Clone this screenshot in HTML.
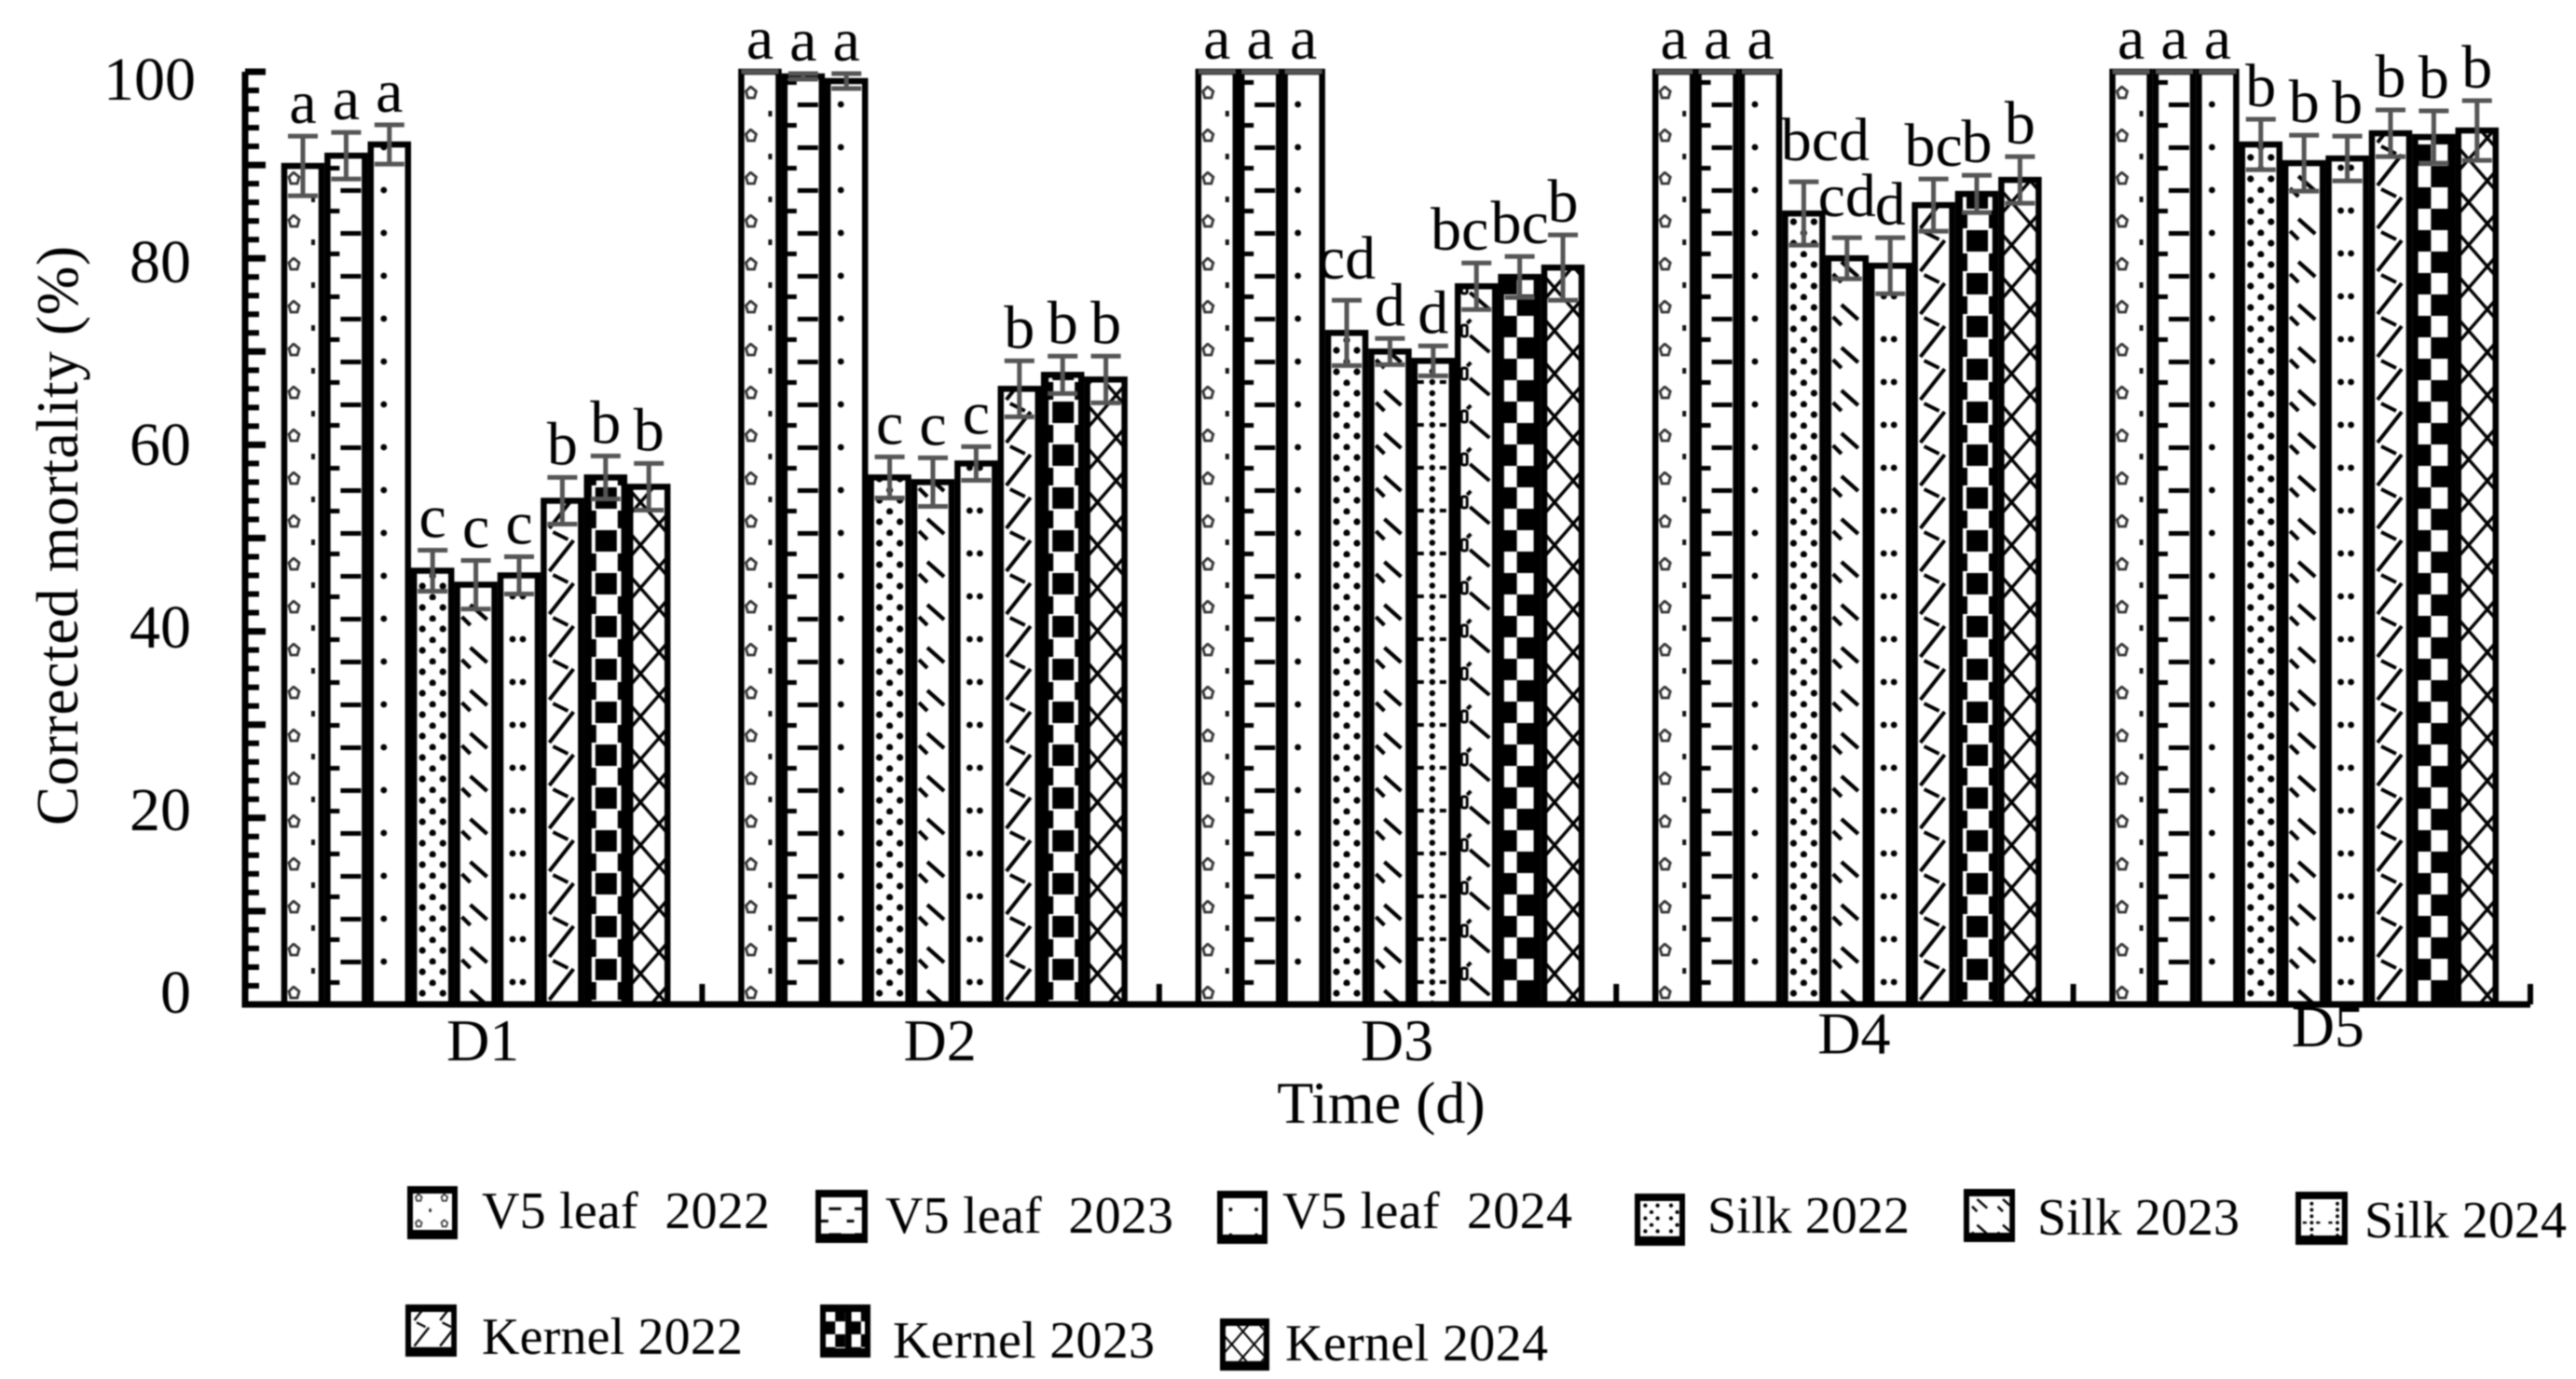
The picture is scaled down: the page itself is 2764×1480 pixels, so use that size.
<!DOCTYPE html>
<html lang="en">
<head>
<meta charset="utf-8">
<title>Corrected mortality</title>
<style>
html,body{margin:0;padding:0;background:#fff;}
svg{display:block;filter:blur(0.7px);}
text{font-family:"Liberation Serif",serif;fill:#000;white-space:pre;}
</style>
</head>
<body>
<svg id="chart" xmlns="http://www.w3.org/2000/svg" width="2764" height="1480" viewBox="0 0 2764 1480">
<defs>
<pattern id="p0" patternUnits="userSpaceOnUse" width="46" height="46">
  <path d="M10 1l6 5-2 7h-7l-2-7z" fill="none" stroke="#333" stroke-width="2.8"/><rect x="29" y="27" width="4" height="6" fill="#111"/>
</pattern>
<pattern id="p1" patternUnits="userSpaceOnUse" width="46" height="46">
  <rect x="14" y="18" width="22" height="5" fill="#000"/><rect x="0" y="40" width="13" height="5" fill="#000"/>
</pattern>
<pattern id="p2" patternUnits="userSpaceOnUse" width="46" height="46">
  <circle cx="14" cy="20" r="3.4" fill="#000"/>
</pattern>
<pattern id="p3" patternUnits="userSpaceOnUse" width="46" height="23">
  <circle cx="20" cy="20" r="3.6" fill="#000"/><circle cx="9" cy="8" r="3.6" fill="#000"/><circle cx="31" cy="8" r="3.6" fill="#000"/>
</pattern>
<pattern id="p4" patternUnits="userSpaceOnUse" width="46" height="46">
  <path d="M14 5L32 21M5 18L14 27" stroke="#000" stroke-width="4.2" fill="none"/>
</pattern>
<pattern id="p5" patternUnits="userSpaceOnUse" width="46" height="46">
  <circle cx="13" cy="42" r="3.4" fill="#000"/><circle cx="24" cy="42" r="3.4" fill="#000"/>
</pattern>
<pattern id="p5b" patternUnits="userSpaceOnUse" width="46" height="46">
  <circle cx="19" cy="8" r="3.2" fill="#000"/><circle cx="19" cy="19" r="3.2" fill="#000"/><circle cx="19" cy="30.5" r="3.2" fill="#000"/><circle cx="19" cy="42" r="3.2" fill="#000"/><rect x="3" y="40" width="7" height="4" fill="#000"/><rect x="27" y="40" width="7" height="4" fill="#000"/>
</pattern>
<pattern id="p6" patternUnits="userSpaceOnUse" width="46" height="46">
  <path d="M6 15L32 -18M6 61L32 28M10 19L26 27" stroke="#000" stroke-width="4" fill="none"/>
</pattern>
<pattern id="p6b" patternUnits="userSpaceOnUse" width="46" height="46">
  <rect x="4" y="27" width="6" height="12" rx="2" fill="none" stroke="#000" stroke-width="3"/><path d="M13 38L34 56M13 -8L34 10M10 25L14 21" stroke="#000" stroke-width="4" fill="none"/>
</pattern>
<pattern id="p7" patternUnits="userSpaceOnUse" width="46" height="46">
  <rect x="0" y="0" width="10" height="46" fill="#000"/><rect x="33" y="0" width="13" height="46" fill="#000"/><rect x="5" y="15" width="32" height="27" fill="#fff"/><rect x="0" y="15" width="5" height="27" fill="#000"/><rect x="37" y="15" width="9" height="27" fill="#000"/><rect x="9" y="17" width="23" height="23" fill="#000"/>
</pattern>
<pattern id="p7b" patternUnits="userSpaceOnUse" width="46" height="46">
  <rect x="0" y="17" width="17" height="23" fill="#000"/><rect x="17" y="40" width="18" height="6" fill="#000"/><rect x="17" y="0" width="18" height="17" fill="#000"/><rect x="35" y="0" width="11" height="46" fill="#000"/>
</pattern>
<pattern id="p8" patternUnits="userSpaceOnUse" width="40" height="46">
  <path d="M-9 56L11 33L31 10L51 -13M11 -13L31 10L51 33M-9 10L11 33L31 56M31 56L51 33M-9 10L11 -13" stroke="#000" stroke-width="3.4" fill="none"/>
</pattern>
</defs>

<g id="marks"></g>
<g id="axes"></g>
<g id="labels"></g>

<text x="0" y="0" font-size="63" text-anchor="middle" textLength="622" transform="translate(83,575) rotate(-90)">Corrected mortality (%)</text>
<text x="1482" y="1205" font-size="64" text-anchor="middle">Time (d)</text>

<g>
<g>
  <rect x="437" y="1273" width="54" height="57" fill="#000"/><g transform="translate(443,1281) scale(.6)"><rect width="70" height="65" fill="#fff"/><rect width="70" height="65" fill="url(#p0)"/></g>
  <text x="517" y="1318" font-size="56" textLength="309">V5 leaf  2022</text>
</g>
<g>
  <rect x="875" y="1277" width="56" height="57" fill="#000"/><g transform="translate(881,1285) scale(.6)"><rect width="73" height="65" fill="#fff"/><rect width="73" height="65" fill="url(#p1)"/></g>
  <text x="950" y="1323" font-size="56" textLength="309">V5 leaf  2023</text>
</g>
<g>
  <rect x="1306" y="1278" width="54" height="57" fill="#000"/><g transform="translate(1312,1286) scale(.6)"><rect width="70" height="65" fill="#fff"/><rect width="70" height="65" fill="url(#p2)"/></g>
  <text x="1376" y="1318" font-size="56" textLength="311">V5 leaf  2024</text>
</g>
<g>
  <rect x="1754" y="1281" width="54" height="56" fill="#000"/><g transform="translate(1760,1289) scale(.6)"><rect width="70" height="63" fill="#fff"/><rect width="70" height="63" fill="url(#p3)"/></g>
  <text x="1832" y="1323" font-size="56" textLength="217">Silk 2022</text>
</g>
<g>
  <rect x="2107" y="1276" width="55" height="57" fill="#000"/><g transform="translate(2113,1284) scale(.6)"><rect width="72" height="65" fill="#fff"/><rect width="72" height="65" fill="url(#p4)"/></g>
  <text x="2186" y="1325" font-size="56" textLength="217">Silk 2023</text>
</g>
<g>
  <rect x="2463" y="1279" width="56" height="57" fill="#000"/><g transform="translate(2469,1287) scale(.6)"><rect width="73" height="65" fill="#fff"/><rect width="73" height="65" fill="url(#p5b)"/></g>
  <text x="2537" y="1328" font-size="56" textLength="217">Silk 2024</text>
</g>
<g>
  <rect x="435" y="1400" width="55" height="56" fill="#000"/><g transform="translate(441,1408) scale(.6)"><rect width="72" height="63" fill="#fff"/><rect width="72" height="63" fill="url(#p6)"/></g>
  <text x="517" y="1453" font-size="56" textLength="280">Kernel 2022</text>
</g>
<g>
  <rect x="880" y="1400" width="54" height="57" fill="#000"/><g transform="translate(886,1408) scale(.6)"><rect width="70" height="65" fill="#fff"/><rect width="70" height="65" fill="url(#p7b)"/></g>
  <text x="958" y="1457" font-size="56" textLength="281">Kernel 2023</text>
</g>
<g>
  <rect x="1309" y="1415" width="53" height="56" fill="#000"/><g transform="translate(1315,1423) scale(.6)"><rect width="68" height="63" fill="#fff"/><rect width="68" height="63" fill="url(#p8)"/></g>
  <text x="1379" y="1460" font-size="56" textLength="282">Kernel 2024</text>
</g>
</g>
</svg>

<script>
const categories = ['D1', 'D2', 'D3', 'D4', 'D5'];
const seriesNames = ['V5 leaf 2022', 'V5 leaf 2023', 'V5 leaf 2024', 'Silk 2022', 'Silk 2023', 'Silk 2024', 'Kernel 2022', 'Kernel 2023', 'Kernel 2024'];
const yTickLabels = [0, 20, 40, 60, 80, 100];

const v5Leaf2022 = [89.9, 100, 100, 100, 100];
const v5Leaf2023 = [91, 99.5, 100, 100, 100];
const v5Leaf2024 = [92.2, 99, 100, 100, 100];
const silk2022 = [46.5, 56.5, 72, 84.8, 92.2];
const silk2023 = [45, 56, 70, 80, 90.2];
const silk2024 = [46, 58, 69, 79.2, 90.7];
const kernel2022 = [54, 66, 77, 85.7, 93.4];
const kernel2023 = [56.5, 67.5, 78, 86.9, 93];
const kernel2024 = [55.5, 67, 79, 88.4, 93.7];

const v5Leaf2022Err = [3.2, 0, 0, 0, 0];
const v5Leaf2023Err = [2.5, 0.3, 0, 0, 0];
const v5Leaf2024Err = [2.1, 0.8, 0, 0, 0];
const silk2022Err = [2.2, 2.2, 3.5, 3.4, 2.7];
const silk2023Err = [2.6, 2.6, 1.4, 2.2, 3];
const silk2024Err = [2, 1.8, 1.6, 3, 2.4];
const kernel2022Err = [2.5, 3, 2.5, 2.8, 2.5];
const kernel2023Err = [2.3, 2, 2.2, 2, 2.8];
const kernel2024Err = [2.5, 2.5, 3.5, 2.5, 3.2];

const v5Leaf2022Sig = ['a', 'a', 'a', 'a', 'a'];
const v5Leaf2023Sig = ['a', 'a', 'a', 'a', 'a'];
const v5Leaf2024Sig = ['a', 'a', 'a', 'a', 'a'];
const silk2022Sig = ['c', 'c', 'cd', 'bcd', 'b'];
const silk2023Sig = ['c', 'c', 'd', 'cd', 'b'];
const silk2024Sig = ['c', 'c', 'd', 'd', 'b'];
const kernel2022Sig = ['b', 'b', 'bc', 'bc', 'b'];
const kernel2023Sig = ['b', 'b', 'bc', 'b', 'b'];
const kernel2024Sig = ['b', 'b', 'b', 'b', 'b'];

const seriesValues = [v5Leaf2022, v5Leaf2023, v5Leaf2024, silk2022, silk2023, silk2024, kernel2022, kernel2023, kernel2024];
const seriesErrors = [v5Leaf2022Err, v5Leaf2023Err, v5Leaf2024Err, silk2022Err, silk2023Err, silk2024Err, kernel2022Err, kernel2023Err, kernel2024Err];
const seriesSig = [v5Leaf2022Sig, v5Leaf2023Sig, v5Leaf2024Sig, silk2022Sig, silk2023Sig, silk2024Sig, kernel2022Sig, kernel2023Sig, kernel2024Sig];

const NS = 'http://www.w3.org/2000/svg';
const AXIS_LEFT = 263, AXIS_RIGHT = 2715, BASE_Y = 1078, UNIT = 10.01;
const BAND = (AXIS_RIGHT - AXIS_LEFT) / categories.length;
const BAR_STEP = 46.4, BAR_W = 40, FIRST_BAR = 42;
const yScale = v => BASE_Y - v * UNIT;
const xBar = (c, s) => AXIS_LEFT + c * BAND + FIRST_BAR + s * BAR_STEP;

function patternFor(c, s) {
  if (s === 5 && c === 2) return 'p5b';
  if (s === 6 && c === 2) return 'p6b';
  if (s === 7 && (c === 2 || c === 4)) return 'p7b';
  return 'p' + s;
}

function make(tag, attrs, parent) {
  const el = document.createElementNS(NS, tag);
  for (const k in attrs) el.setAttribute(k, attrs[k]);
  parent.appendChild(el);
  return el;
}

const marks = document.getElementById('marks');
const axes = document.getElementById('axes');
const labels = document.getElementById('labels');

categories.forEach((cat, c) => {
  seriesValues.forEach((vals, s) => {
    const top = yScale(vals[c]);
    const g = make('g', { transform: 'translate(' + xBar(c, s) + ',0)' }, marks);
    
    
    const fill = make('rect', { x: 0, y: top, width: BAR_W, height: BASE_Y - top, fill: '#fff' }, g);
    
    
    const bar = make('rect', { x: 0, y: top, width: BAR_W, height: BASE_Y - top, fill: 'url(#' + patternFor(c, s) + ')', stroke: '#000', 'stroke-width': 6.5 }, g);
    
    
  });
});

categories.forEach((cat, c) => {
  seriesValues.forEach((vals, s) => {
    const cx = xBar(c, s) + BAR_W / 2;
    const e = seriesErrors[s][c];
    const hi = yScale(vals[c] + e), lo = yScale(vals[c] - e);
    const capHalf = e === 0 ? 20 : 16;
    const errorPath = make('path', {
      d: 'M' + (cx - capHalf) + ' ' + hi + 'H' + (cx + capHalf) + 'M' + (cx - capHalf) + ' ' + lo + 'H' + (cx + capHalf) + 'M' + cx + ' ' + hi + 'V' + lo,
      stroke: '#555', 'stroke-width': 5, fill: 'none'
    }, marks);
    
    

    const sig = seriesSig[s][c];
    let dx = sig.length === 3 ? 23 : 0;
    if (s === 6 && c === 2) dx = -18;
    const lift = (s >= 3 && s <= 5 && sig.length >= 2) ? 23 : 14;
    const sigText = make('text', { x: cx + dx, y: hi - lift, 'font-size': 66, 'text-anchor': 'middle' }, labels);
    
    
    sigText.textContent = sig;
  });
});

const axisPath = make('path', {
  d: 'M' + AXIS_LEFT + ' ' + yScale(100) + 'V' + BASE_Y + 'H' + AXIS_RIGHT,
  stroke: '#000', 'stroke-width': 7, fill: 'none'
}, axes);



for (let v = 0; v <= 100; v += 2) {
  const major = v % 10 === 0;
  const tick = make('line', { x1: AXIS_LEFT, x2: AXIS_LEFT + (major ? 22 : 15), y1: yScale(v), y2: yScale(v), stroke: '#000', 'stroke-width': major ? 7 : 6 }, axes);
  
  
}

yTickLabels.forEach(v => {
  const t = make('text', { x: v === 100 ? 210 : 205, y: 1087 - 9.8 * v, 'font-size': 66, 'text-anchor': 'end' }, labels);
  
  
  t.textContent = v;
});

for (let c = 1; c <= categories.length; c++) {
  const x = AXIS_LEFT + c * BAND;
  const tick = make('line', { x1: x, x2: x, y1: BASE_Y, y2: BASE_Y - 22, stroke: '#000', 'stroke-width': 6 }, axes);
  
  
}

categories.forEach((cat, c) => {
  const up = c >= 3 ? (c - 2) * 7.5 : 0;
  const shift = c === 4 ? 28 : 10;
  const t = make('text', { x: AXIS_LEFT + (c + 0.5) * BAND + shift, y: 1138 - up, 'font-size': 64, 'text-anchor': 'middle' }, labels);
  
  
  t.textContent = cat;
});
</script>
</body>
</html>
